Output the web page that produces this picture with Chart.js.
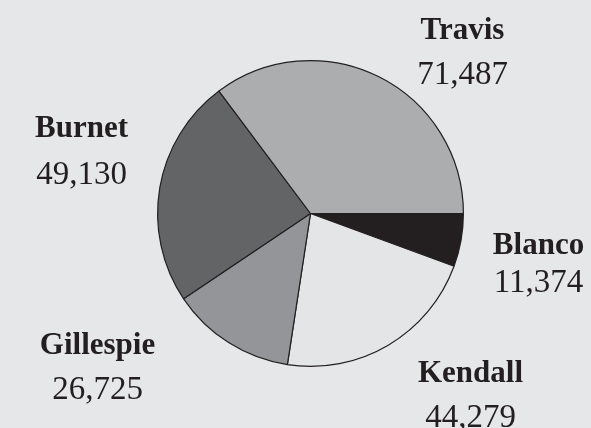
<!DOCTYPE html>
<html>
<head>
<meta charset="utf-8">
<script src="https://cdn.jsdelivr.net/npm/chart.js@4.4.0/dist/chart.umd.min.js"></script>
<style>
    html, body { margin: 0; padding: 0; background: #e6e7e8; }
    #wrap { width: 591px; height: 428px; }
</style>
</head>
<body>
<div id="wrap"><canvas id="countyChart" width="591" height="428"></canvas></div>
<script>
// Clockwise from 3 o'clock
const counties = ['Blanco', 'Kendall', 'Gillespie', 'Burnet', 'Travis'];
const population = [11374, 44279, 26725, 49130, 71487];
const sliceColors = ['#231f20', '#e4e5e7', '#939598', '#636466', '#acadaf'];

// label placement: offset from pie centre (px), name baseline and value baseline
const labelLayout = [
    { dx: 228, nameDy: 40, valueDy: 78 },     // Blanco
    { dx: 160, nameDy: 168, valueDy: 213 },   // Kendall
    { dx: -213, nameDy: 140, valueDy: 185 },  // Gillespie
    { dx: -229, nameDy: -77, valueDy: -30 },  // Burnet
    { dx: 152, nameDy: -175, valueDy: -130 }  // Travis
];

const sideLabels = {
    id: 'sideLabels',
    afterDraw(chart) {
        const ctx = chart.ctx;
        const arcs = chart.getDatasetMeta(0).data;
        ctx.save();
        ctx.fillStyle = '#231f20';
        ctx.textAlign = 'center';
        ctx.textBaseline = 'alphabetic';
        arcs.forEach((arc, i) => {
            const pos = labelLayout[i];
            const x = arc.x + pos.dx;
            ctx.font = 'bold 31px "Liberation Serif"';
            ctx.fillText(counties[i], x, arc.y + pos.nameDy);
            ctx.font = '33px "Liberation Serif"';
            ctx.fillText(population[i].toLocaleString('en-US'), x, arc.y + pos.valueDy);
        });
        ctx.restore();
    }
};

new Chart(document.getElementById('countyChart'), {
    type: 'pie',
    data: {
        labels: counties,
        datasets: [{
            data: population,
            backgroundColor: sliceColors,
            borderColor: '#231f20',
            borderWidth: 1.2
        }]
    },
    options: {
        responsive: false,
        animation: false,
        rotation: 90,
        layout: { padding: { left: 157, right: 127, top: 60, bottom: 61 } },
        plugins: {
            legend: { display: false },
            tooltip: { enabled: false }
        }
    },
    plugins: [sideLabels]
});
</script>
</body>
</html>
